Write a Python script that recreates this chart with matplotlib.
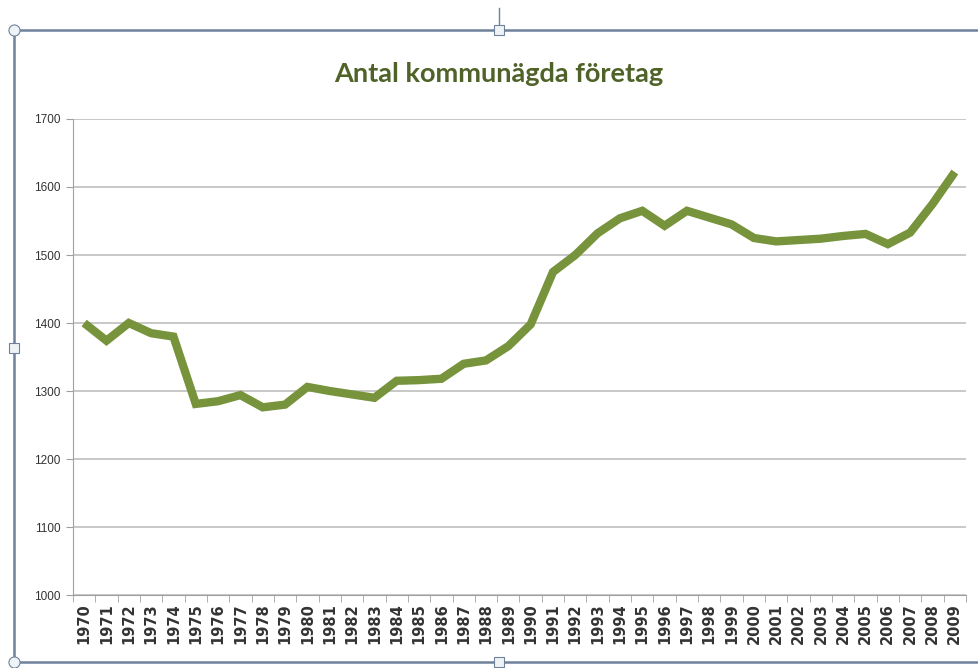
import numpy as np
import matplotlib.pyplot as plt
from matplotlib.patches import Rectangle

years = list(range(1970, 2010))
antal = [1400, 1374, 1400, 1385, 1380, 1281, 1285, 1294, 1276, 1280,
         1306, 1300, 1295, 1290, 1315, 1316, 1318, 1340, 1345, 1366,
         1398, 1475, 1500, 1532, 1554, 1565, 1543, 1565, 1555, 1545,
         1525, 1520, 1522, 1524, 1528, 1531, 1516, 1533, 1575, 1622]
yticks = [1000, 1100, 1200, 1300, 1400, 1500, 1600, 1700]

fig = plt.figure(figsize=(9.79, 6.68), dpi=100)
fig.patch.set_facecolor('white')

# chart frame (selection border + handles)
frame_col = '#6f819b'
fig.add_artist(Rectangle((14/979, 1-662/668), 1.0, (662-30)/668,
                         transform=fig.transFigure, fill=False,
                         edgecolor=frame_col, linewidth=1.8))
fig.add_artist(plt.Line2D([499/979, 499/979], [1-8/668, 1-30/668],
                          transform=fig.transFigure, color=frame_col, lw=1))
fig.add_artist(plt.Line2D([14/979, 14/979], [1-30/668, 1-662/668],
                          transform=fig.transFigure, ls='none', marker='o',
                          ms=8, mfc='#eef4f6', mec=frame_col, mew=0.8))
fig.add_artist(plt.Line2D([499/979, 14/979, 499/979], [1-30/668, 1-348/668, 1-662/668],
                          transform=fig.transFigure, ls='none', marker='s',
                          ms=6.5, mfc='#eef4f6', mec=frame_col, mew=0.8))

ax = fig.add_axes([73/979, 1-595/668, (966-73)/979, (595-119)/668])
x = np.arange(len(years))
ax.plot(x, antal, color='#77933c', linewidth=6, solid_joinstyle='miter',
        solid_capstyle='butt', zorder=3)

ax.set_xlim(-0.5, len(years)-0.5)
ax.set_ylim(1000, 1700)
ax.set_yticks(yticks)
ax.set_yticklabels([str(v) for v in yticks], fontsize=8.5, color='#333333',
                   family='Liberation Sans')
ax.set_xticks(x)
ax.set_xticklabels([str(y) for y in years], rotation=90, fontsize=10.5,
                   fontweight='bold', color='#333333', family='DejaVu Sans')
ax.set_xticks(np.arange(-0.5, len(years)), minor=True)
ax.tick_params(axis='x', which='major', length=0, pad=6)
ax.tick_params(axis='x', which='minor', length=5, color='#a0a0a0', direction='out')
ax.tick_params(axis='y', length=5, color='#a0a0a0', pad=4)

ax.grid(axis='y', color='#bfbfbf', linewidth=1.2)
ax.set_axisbelow(True)
for s in ['top', 'right']:
    ax.spines[s].set_visible(False)
ax.spines['left'].set_color('#a0a0a0')
ax.spines['bottom'].set_color('#a0a0a0')

fig.text(499/979, 1-74/668, 'Antal kommunägda företag', ha='center', va='center',
         fontsize=19.5, fontweight='bold', color='#4f6228', family='Lato')

fig.savefig('out.png', dpi=100)
